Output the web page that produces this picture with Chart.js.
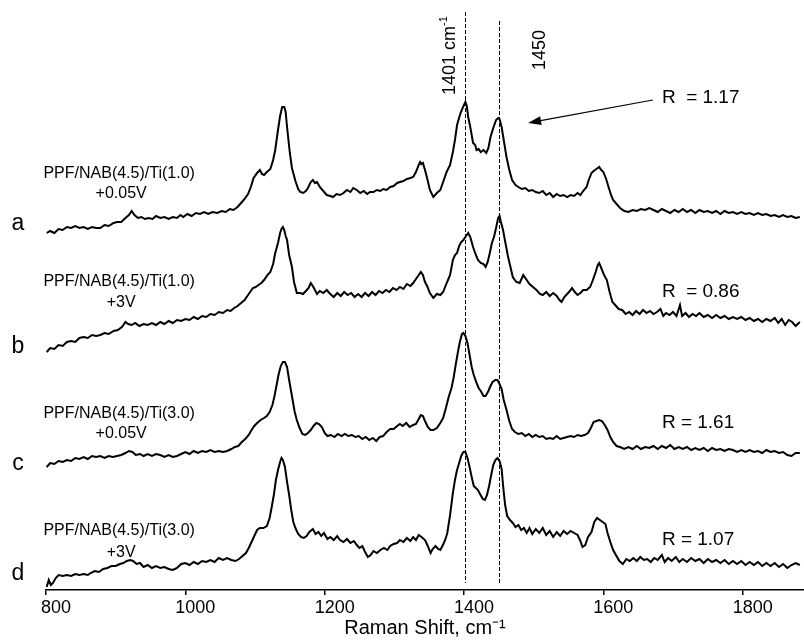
<!DOCTYPE html>
<html lang="en">
<head>
  <meta charset="UTF-8">
  <title>Raman spectra - PPF/NAB/Ti junctions</title>
  <script src="https://cdn.jsdelivr.net/npm/chart.js"></script>
  <style>
    body {
      margin: 0;
      background: #fff;
    }
    #raman {
      display: block;
    }
  </style>
</head>
<body>
  <canvas id="raman" width="804" height="643"></canvas>

  <script>
    // Raman shift (cm-1) and intensity (offset, a.u.) for each spectrum
    const shiftA = [
      801, 806, 812, 818, 824, 830, 836, 842, 848, 854,
      860, 866, 872, 878, 884, 890, 897, 902, 908, 914,
      919, 923, 927, 932, 937, 942, 947, 953, 958, 964,
      970, 976, 982, 988, 993, 997, 1003, 1009, 1015, 1021,
      1027, 1033, 1039, 1046, 1052, 1058, 1064, 1069, 1075, 1080,
      1085, 1090, 1094, 1098, 1103, 1107, 1110, 1113, 1117, 1122,
      1126, 1129, 1133, 1136, 1139, 1142, 1144, 1146, 1150, 1153,
      1158, 1162, 1165, 1169, 1173, 1176, 1180, 1183, 1186, 1189,
      1193, 1198, 1203, 1208, 1212, 1217, 1222, 1227, 1232, 1237,
      1241, 1246, 1251, 1256, 1261, 1265, 1270, 1275, 1280, 1284,
      1289, 1294, 1299, 1304, 1308, 1313, 1318, 1323, 1327, 1331,
      1335, 1337, 1339, 1341, 1344, 1347, 1351, 1356, 1361, 1366,
      1370, 1375, 1380, 1384, 1387, 1390, 1392, 1395, 1398, 1402,
      1404, 1406, 1409, 1413, 1416, 1418, 1421, 1424, 1428, 1432,
      1435, 1438, 1442, 1446, 1449, 1451, 1454, 1457, 1461, 1465,
      1469, 1474, 1478, 1483, 1488, 1493, 1498, 1503, 1508, 1513,
      1518, 1523, 1528, 1533, 1538, 1543, 1548, 1553, 1558, 1563,
      1567, 1571, 1576, 1579, 1583, 1586, 1590, 1594, 1597, 1600,
      1604, 1607, 1611, 1614, 1619, 1624, 1630, 1636, 1642, 1648,
      1654, 1660, 1666, 1672, 1678, 1684, 1690, 1696, 1702, 1708,
      1714, 1720, 1726, 1732, 1738, 1744, 1750, 1756, 1762, 1768,
      1774, 1780, 1786, 1792, 1798, 1804, 1810, 1816, 1822, 1828,
      1834, 1840, 1846, 1852, 1858, 1864, 1870, 1876, 1882
    ];
    const intensityA = [
      357, 359, 357, 361, 360, 363, 362, 364, 362, 363,
      361, 363, 362, 362, 365, 364, 367, 368, 368, 372,
      375, 379, 375, 372, 373, 371, 372, 371, 374, 372,
      373, 371, 373, 372, 375, 373, 376, 374, 377, 376,
      378, 376, 378, 377, 379, 378, 381, 380, 383, 387,
      391, 396, 403, 412, 417, 420, 416, 415, 418, 421,
      430, 440, 460, 474, 483, 483, 478, 463, 437, 422,
      409, 401, 398, 397, 399, 402, 408, 410, 407, 408,
      403, 399, 395, 394, 393, 396, 395, 397, 400, 398,
      402, 400, 397, 399, 396, 398, 398, 400, 399, 401,
      400, 403, 404, 407, 408, 409, 411, 412, 413, 418,
      425, 428, 426, 427, 420, 412, 400, 393, 397, 400,
      408, 418, 425, 438, 450, 465, 470, 477, 482, 488,
      484, 473, 463, 447, 445, 440, 441, 438, 440, 437,
      442, 453, 462, 470, 472, 471, 463, 450, 433, 420,
      410, 405, 403, 401, 402, 399, 400, 398, 397, 399,
      395, 397, 393, 396, 394, 395, 393, 395, 394, 397,
      395, 399, 403, 410, 417, 419, 421, 423, 420, 418,
      411, 404, 395, 390, 386, 382, 379, 378, 380, 379,
      381, 380, 382, 380, 378, 381, 379, 377, 380, 378,
      381, 378, 380, 377, 380, 378, 379, 377, 379, 376,
      379, 377, 378, 376, 378, 376, 377, 375, 377, 375,
      376, 374, 375, 373, 375, 373, 374, 372, 373
    ];

    const shiftB = [
      801, 806, 812, 818, 824, 830, 836, 842, 848, 854,
      860, 866, 872, 878, 884, 890, 897, 903, 909, 914,
      918, 923, 928, 934, 940, 946, 952, 958, 964, 970,
      976, 982, 988, 994, 1000, 1006, 1012, 1018, 1024, 1030,
      1036, 1042, 1048, 1054, 1060, 1065, 1070, 1075, 1080, 1085,
      1089, 1093, 1097, 1101, 1105, 1109, 1113, 1118, 1122, 1126,
      1129, 1133, 1136, 1138, 1140, 1142, 1144, 1146, 1149, 1153,
      1156, 1160, 1165, 1169, 1173, 1177, 1180, 1183, 1186, 1189,
      1193, 1198, 1203, 1208, 1213, 1218, 1223, 1228, 1233, 1238,
      1243, 1248, 1253, 1258, 1263, 1268, 1273, 1278, 1283, 1288,
      1293, 1298, 1303, 1308, 1313, 1318, 1323, 1327, 1331, 1335,
      1338, 1341, 1344, 1347, 1351, 1356, 1361, 1366, 1370, 1374,
      1377, 1380, 1384, 1387, 1390, 1393, 1396, 1399, 1403, 1406,
      1409, 1413, 1417, 1420, 1424, 1428, 1431, 1434, 1437, 1440,
      1443, 1446, 1449, 1451, 1453, 1456, 1460, 1463, 1467, 1470,
      1475, 1480, 1485, 1489, 1494, 1499, 1504, 1509, 1513, 1518,
      1523, 1528, 1533, 1537, 1540, 1544, 1548, 1552, 1555, 1559,
      1563, 1567, 1571, 1576, 1581, 1585, 1589, 1592, 1594, 1597,
      1601, 1605, 1609, 1613, 1617, 1622, 1627, 1632, 1637, 1642,
      1647, 1652, 1657, 1662, 1667, 1672, 1677, 1682, 1686, 1690,
      1695, 1700, 1705, 1710, 1713, 1718, 1723, 1728, 1733, 1738,
      1744, 1750, 1756, 1762, 1768, 1774, 1780, 1786, 1792, 1798,
      1804, 1810, 1816, 1822, 1828, 1834, 1840, 1846, 1851, 1856,
      1861, 1866, 1871, 1876, 1882
    ];
    const intensityB = [
      238, 242, 241, 245, 244, 248, 249, 248, 252, 253,
      252, 255, 254, 255, 257, 256, 259, 260, 263, 268,
      266, 265, 267, 264, 266, 265, 267, 265, 268, 266,
      269, 267, 270, 269, 271, 270, 273, 271, 274, 273,
      276, 275, 278, 277, 280, 279, 282, 284, 287, 290,
      294, 298, 302, 303, 305, 307, 310, 315, 318, 326,
      337, 347, 357, 361, 363, 360, 354, 350, 335, 323,
      308, 297, 297, 296, 299, 302, 307, 304, 300, 296,
      299, 297, 300, 296, 293, 297, 294, 298, 295, 297,
      293, 296, 293, 297, 294, 298, 295, 299, 297, 300,
      298, 302, 300, 303, 301, 306, 304, 307, 311, 315,
      318, 315, 308, 304, 297, 292, 296, 295, 298, 305,
      310, 315, 330, 335, 337, 344, 348, 350, 354, 357,
      353, 343, 335, 330, 327, 326, 323, 328, 337, 347,
      353, 362, 372, 374, 368, 360, 345, 334, 322, 313,
      308, 307, 315, 311, 306, 303, 300, 296, 295, 298,
      294, 297, 294, 290, 288, 293, 296, 299, 302, 298,
      295, 297, 300, 300, 303, 310, 318, 325, 327, 322,
      315, 310, 298, 288, 285, 281, 280, 276, 278, 275,
      279, 276, 280, 277, 279, 276, 278, 281, 274, 277,
      275, 278, 274, 285, 274, 277, 273, 276, 274, 277,
      273, 275, 272, 275, 272, 274, 271, 273, 271, 273,
      270, 272, 269, 271, 268, 271, 269, 272, 267, 271,
      265, 270, 268, 264, 268
    ];

    const shiftC = [
      801, 806, 812, 818, 824, 830, 836, 842, 848, 854,
      860, 866, 872, 878, 884, 890, 896, 902, 908, 914,
      919, 924, 929, 935, 940, 946, 952, 958, 964, 970,
      976, 982, 988, 994, 1000, 1006, 1012, 1018, 1024, 1030,
      1036, 1042, 1048, 1054, 1060, 1066, 1071, 1076, 1081, 1086,
      1091, 1095, 1099, 1103, 1108, 1113, 1117, 1121, 1125, 1128,
      1131, 1134, 1137, 1140, 1143, 1146, 1149, 1153, 1157, 1160,
      1164, 1168, 1172, 1176, 1180, 1184, 1188, 1192, 1196, 1200,
      1204, 1209, 1214, 1219, 1224, 1229, 1234, 1239, 1244, 1249,
      1254, 1259, 1264, 1269, 1274, 1279, 1284, 1289, 1294, 1299,
      1304, 1308, 1312, 1317, 1322, 1327, 1331, 1335, 1338, 1341,
      1344, 1348, 1352, 1356, 1361, 1366, 1370, 1374, 1378, 1382,
      1385, 1388, 1391, 1394, 1397, 1399, 1402, 1405, 1408, 1411,
      1414, 1418, 1421, 1424, 1428, 1431, 1435, 1438, 1441, 1445,
      1448, 1451, 1454, 1457, 1461, 1465, 1469, 1473, 1478, 1483,
      1488, 1493, 1498, 1503, 1508, 1513, 1518, 1523, 1528, 1533,
      1538, 1543, 1548, 1553, 1558, 1563, 1568, 1573, 1578, 1582,
      1586, 1590, 1594, 1598, 1602, 1606, 1610, 1614, 1619, 1624,
      1630, 1636, 1642, 1648, 1654, 1660, 1666, 1672, 1678, 1684,
      1690, 1696, 1702, 1708, 1714, 1720, 1726, 1732, 1738, 1744,
      1750, 1756, 1762, 1768, 1774, 1780, 1786, 1792, 1798, 1804,
      1810, 1816, 1822, 1828, 1834, 1840, 1846, 1852, 1858, 1864,
      1870, 1876, 1882
    ];
    const intensityC = [
      123, 127, 126, 129, 128, 130, 129, 132, 131, 133,
      131, 134, 133, 134, 132, 134, 133, 134, 135, 137,
      139, 138, 135, 136, 134, 136, 134, 136, 135, 133,
      135, 133, 134, 136, 138, 136, 139, 137, 139, 138,
      140, 138, 139, 138, 139, 141, 143, 144, 148, 151,
      155, 160, 164, 167, 170, 172, 174, 178, 185, 194,
      205, 216, 224, 228, 228, 223, 210, 194, 178, 170,
      162, 156, 155, 157, 160, 164, 167, 166, 163, 157,
      154, 155, 153, 156, 154, 156, 154, 155, 153, 154,
      151, 153, 150, 152, 149, 153, 154, 158, 161, 161,
      164, 166, 164, 167, 163, 165, 166, 171, 175, 174,
      169, 163, 160, 160, 162, 167, 172, 182, 193, 202,
      212, 225, 237, 248, 256, 257, 254, 247, 235, 223,
      215, 207, 202, 199, 194, 194, 199, 204, 208, 210,
      210, 206, 201, 190, 180, 169, 161, 158, 156, 157,
      154, 156, 153, 155, 153, 154, 151, 152, 151, 154,
      151, 152, 153, 154, 153, 155, 154, 155, 157, 162,
      168, 169, 170, 169, 165, 160, 153, 148, 144, 143,
      141, 143, 141, 144, 141, 143, 142, 144, 141, 144,
      142, 145, 141, 143, 141, 143, 140, 142, 140, 142,
      139, 142, 140, 141, 139, 141, 140, 138, 140, 138,
      140, 138, 139, 137, 140, 138, 139, 137, 138, 135,
      134, 137, 137
    ];

    const shiftD = [
      801, 804, 807, 810, 814, 818, 824, 830, 836, 842,
      848, 854, 860, 864, 870, 876, 882, 888, 894, 900,
      906, 911, 916, 921, 925, 930, 935, 940, 946, 952,
      958, 964, 970, 976, 982, 988, 994, 1000, 1006, 1012,
      1018, 1024, 1030, 1036, 1042, 1048, 1054, 1060, 1066, 1072,
      1077, 1082, 1087, 1091, 1095, 1099, 1103, 1107, 1112, 1117,
      1121, 1124, 1127, 1130, 1133, 1136, 1138, 1140, 1143, 1146,
      1149, 1152, 1155, 1158, 1162, 1166, 1170, 1174, 1178, 1183,
      1187, 1191, 1195, 1199, 1204, 1208, 1213, 1218, 1222, 1227,
      1232, 1237, 1242, 1246, 1250, 1254, 1258, 1262, 1266, 1270,
      1275, 1280, 1285, 1290, 1294, 1299, 1304, 1308, 1313, 1318,
      1323, 1327, 1331, 1335, 1339, 1344, 1348, 1352, 1355, 1359,
      1363, 1366, 1369, 1373, 1376, 1380, 1384, 1387, 1390, 1393,
      1396, 1399, 1402, 1405, 1408, 1411, 1414, 1417, 1420, 1423,
      1427, 1430, 1433, 1436, 1439, 1442, 1445, 1448, 1451, 1454,
      1456, 1459, 1462, 1466, 1470, 1474, 1478, 1482, 1486, 1490,
      1494, 1498, 1503, 1508, 1513, 1518, 1523, 1528, 1533, 1538,
      1543, 1548, 1553, 1558, 1563, 1567, 1570, 1574, 1578, 1583,
      1587, 1591, 1595, 1599, 1603, 1606, 1610, 1614, 1618, 1623,
      1628, 1633, 1638, 1643, 1648, 1653, 1658, 1663, 1668, 1673,
      1678, 1684, 1688, 1693, 1698, 1704, 1709, 1714, 1720, 1726,
      1732, 1738, 1744, 1750, 1756, 1762, 1768, 1774, 1780, 1786,
      1792, 1798, 1804, 1810, 1816, 1822, 1828, 1834, 1840, 1846,
      1852, 1858, 1864, 1870, 1876, 1882
    ];
    const intensityD = [
      3, 10, 5, 7, 12, 15, 14, 15, 14, 16,
      15, 16, 15, 17, 19, 18, 21, 22, 24, 24,
      26, 27, 29, 30, 29, 26, 27, 23, 25, 22,
      24, 22, 23, 21, 20, 22, 26, 27, 25, 28,
      26, 29, 28, 30, 28, 32, 30, 32, 30, 29,
      31, 34, 37, 42, 48, 54, 60, 62, 62, 64,
      72, 83, 95, 110, 120, 128, 132, 130, 123, 108,
      95, 80, 68, 62, 56, 53, 52, 54, 58, 61,
      56, 58, 54, 57, 51, 53, 50, 54, 50, 48,
      51, 47, 49, 45, 42, 44, 38, 33, 35, 39,
      37, 40, 42, 40, 44, 46, 47, 50, 48, 52,
      49, 53, 50, 55, 53, 50, 44, 37, 41, 44,
      41, 40, 44, 50, 57, 75, 97, 110, 120, 127,
      134, 138, 138, 132, 123, 113, 104, 102, 100, 96,
      91, 90, 95, 104, 115, 125, 130, 132, 129, 121,
      105, 85, 74, 70, 67, 63, 65, 60, 62, 57,
      62, 56, 61, 57, 62, 55, 59, 53, 58, 54,
      59, 56, 59, 57, 55, 49, 43, 45, 53, 58,
      68, 72, 70, 68, 66, 57, 48, 40, 35, 29,
      26, 31, 29, 32, 29, 33, 30, 31, 28, 32,
      30, 35, 28, 32, 29, 33, 28, 31, 28, 32,
      29, 31, 27, 31, 28, 30, 27, 30, 26, 29,
      26, 29, 25, 28, 25, 28, 24, 27, 24, 27,
      23, 26, 22, 25, 27, 25
    ];

    // labels for each trace, top to bottom
    const traceLetters = ['a', 'b', 'c', 'd'];
    const sampleNames = ['PPF/NAB(4.5)/Ti(1.0)', 'PPF/NAB(4.5)/Ti(1.0)', 'PPF/NAB(4.5)/Ti(3.0)', 'PPF/NAB(4.5)/Ti(3.0)'];
    const biasLabels = ['+0.05V', '+3V', '+0.05V', '+3V'];
    const ratioLabels = ['R  = 1.17', 'R  = 0.86', 'R = 1.61', 'R = 1.07'];

    // band positions marked with dashed lines
    const markerShifts = [1401, 1450];

    const xTickValues = [800, 1000, 1200, 1400, 1600, 1800];

    const FONT = "'Liberation Sans', Arial, Helvetica, sans-serif";

    const spectra = [
      { shift: shiftA, counts: intensityA },
      { shift: shiftB, counts: intensityB },
      { shift: shiftC, counts: intensityC },
      { shift: shiftD, counts: intensityD }
    ];

    // text with a raised, smaller suffix (e.g. cm-1)
    function textWithSup(ctx, base, sup, x, y, size) {
      ctx.font = size + 'px ' + FONT;
      ctx.fillText(base, x, y);
      const w = ctx.measureText(base).width;
      ctx.font = Math.round(size * 0.62) + 'px ' + FONT;
      ctx.fillText(sup, x + w, y - size * 0.42);
    }

    const annotations = {
      id: 'annotations',
      afterDatasetsDraw(chart) {
        const { ctx, scales: { x, y }, chartArea } = chart;
        ctx.save();
        ctx.fillStyle = '#000';
        ctx.strokeStyle = '#000';

        // dashed band markers
        ctx.lineWidth = 1;
        ctx.setLineDash([4, 2]);
        const tops = [578, 569];
        markerShifts.forEach((v, i) => {
          const px = Math.round(x.getPixelForValue(v)) + 0.5;
          ctx.beginPath();
          ctx.moveTo(px, y.getPixelForValue(tops[i]));
          ctx.lineTo(px, y.getPixelForValue(7));
          ctx.stroke();
        });
        ctx.setLineDash([]);

        // rotated band labels
        const m1 = x.getPixelForValue(markerShifts[0]);
        const m2 = x.getPixelForValue(markerShifts[1]);
        ctx.textAlign = 'left';
        ctx.textBaseline = 'alphabetic';
        ctx.save();
        ctx.translate(m1 - 10, y.getPixelForValue(495));
        ctx.rotate(-Math.PI / 2);
        textWithSup(ctx, markerShifts[0] + ' cm', '-1', 0, 0, 18);
        ctx.restore();
        ctx.save();
        ctx.translate(m2 + 46, y.getPixelForValue(520));
        ctx.rotate(-Math.PI / 2);
        ctx.font = '18px ' + FONT;
        ctx.fillText(String(markerShifts[1]), 0, 0);
        ctx.restore();

        // arrow pointing at the 1450 band of trace a
        const tx = x.getPixelForValue(1671), ty = y.getPixelForValue(490);
        const hx = x.getPixelForValue(1492), hy = y.getPixelForValue(467);
        const ang = Math.atan2(hy - ty, hx - tx);
        ctx.lineWidth = 1.2;
        ctx.beginPath();
        ctx.moveTo(tx, ty);
        ctx.lineTo(hx - 10 * Math.cos(ang), hy - 10 * Math.sin(ang));
        ctx.stroke();
        ctx.beginPath();
        ctx.moveTo(hx, hy);
        ctx.lineTo(hx - 13 * Math.cos(ang) + 4.5 * Math.sin(ang), hy - 13 * Math.sin(ang) - 4.5 * Math.cos(ang));
        ctx.lineTo(hx - 13 * Math.cos(ang) - 4.5 * Math.sin(ang), hy - 13 * Math.sin(ang) + 4.5 * Math.cos(ang));
        ctx.closePath();
        ctx.fill();

        // trace letters, sample names and intensity ratios
        const letterBase = [360, 237, 120, 10];
        const nameBase = [412, 304, 172, 55];
        const biasBase = [392, 283, 152, 33];
        const ratioBase = [487, 293, 162, 45];
        const nameX = x.getPixelForValue(905);
        const ratioX = x.getPixelForValue(1684);

        traceLetters.forEach((t, i) => {
          ctx.textAlign = 'center';
          ctx.font = '23px ' + FONT;
          ctx.fillText(t, chartArea.left - 28, y.getPixelForValue(letterBase[i]));

          ctx.font = '16px ' + FONT;
          ctx.fillText(sampleNames[i], nameX, y.getPixelForValue(nameBase[i]));
          ctx.fillText(biasLabels[i], nameX + 2, y.getPixelForValue(biasBase[i]));

          ctx.textAlign = 'left';
          ctx.font = '19px ' + FONT;
          ctx.fillText(ratioLabels[i], ratioX, y.getPixelForValue(ratioBase[i]));
        });

        ctx.restore();
      }
    };

    new Chart(document.getElementById('raman'), {
      type: 'line',
      data: {
        datasets: spectra.map(s => ({
          data: s.shift.map((v, i) => ({ x: v, y: s.counts[i] })),
          borderColor: '#000',
          borderWidth: 2,
          pointRadius: 0,
          tension: 0,
          fill: false
        }))
      },
      options: {
        responsive: false,
        animation: false,
        devicePixelRatio: 1,
        layout: { padding: { left: 46, right: 0, top: 0, bottom: 0 } },
        plugins: {
          legend: { display: false },
          tooltip: { enabled: false }
        },
        scales: {
          x: {
            type: 'linear',
            min: 800,
            max: 1888,
            afterBuildTicks: scale => {
              scale.ticks = xTickValues.map(v => ({ value: v }));
            },
            // tick mark 5 + padding 4 + labels 18 + title 22 + 4 = 53px under the plot
            afterFit: scale => {
              scale.height = 53;
            },
            border: { display: true, color: '#000', width: 1.5 },
            grid: {
              display: true,
              drawOnChartArea: false,
              drawTicks: true,
              tickLength: 5,
              color: '#000',
              lineWidth: 1.5
            },
            ticks: {
              color: '#000',
              font: { family: FONT, size: 18, lineHeight: 1 },
              padding: 4,
              labelOffset: 10,
              maxRotation: 0,
              autoSkip: false,
              callback: v => String(v)
            },
            title: {
              display: true,
              text: 'Raman Shift, cm\u207B\u00B9',
              color: '#000',
              font: { family: FONT, size: 20, lineHeight: 1.1 },
              padding: { top: 0, bottom: 4 }
            }
          },
          y: {
            display: false,
            min: 0,
            max: 590
          }
        }
      },
      plugins: [annotations]
    });
  </script>
</body>
</html>
